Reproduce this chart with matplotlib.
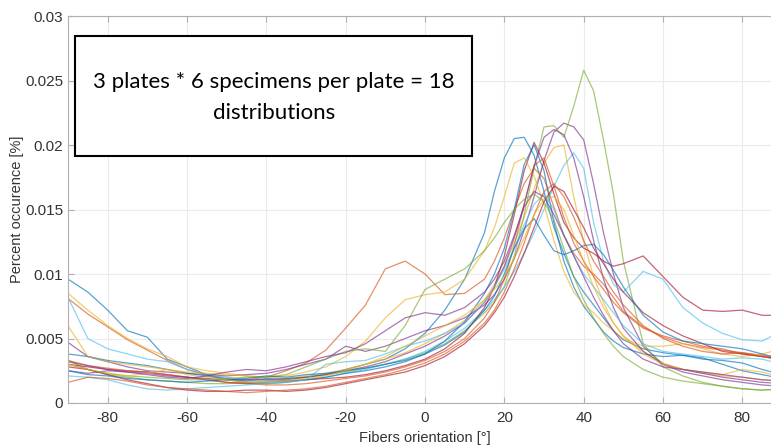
import numpy as np
import matplotlib.pyplot as plt
from matplotlib.patches import Rectangle

plt.rcParams['font.family'] = ['Liberation Sans', 'DejaVu Sans']
plt.rcParams['axes.unicode_minus'] = False

# orientation angles [deg]
angles = [-90, -85, -80, -75, -70, -65, -60, -55, -50, -45, -40, -35, -30, -25, -20, -15, -10, -5, 0, 5, 10, 15,
          17.5, 20, 22.5, 25, 27.5, 30, 32.5, 35, 37.5, 40, 42.5, 45, 47.5,
          50, 55, 60, 65, 70, 75, 80, 85, 90]

# percent occurence (units of 1e-3)
c01 = [9.6, 8.6, 7.2, 5.6, 5.1, 3.4, 2.8, 2.2, 1.9, 1.7, 1.9, 1.8, 2.0, 2.2, 2.6, 3.0, 3.4, 4.2, 5.4, 7.2, 9.6, 13.2,
       16.4, 19.0, 20.5, 20.6, 19.2, 16.4, 13.6, 11.6, 9.8, 8.6, 7.6, 6.6, 5.6,
       4.9, 4.2, 3.9, 3.7, 3.4, 3.3, 3.1, 2.6, 2.2]
c02 = [8.1, 6.9, 5.9, 4.9, 4.1, 3.3, 2.6, 2.2, 1.8, 1.8, 2.0, 2.5, 3.1, 4.1, 5.8, 7.6, 10.4, 11.0, 10.0, 8.4, 8.5, 9.6,
       11.0, 12.8, 15.0, 17.0, 18.2, 17.4, 15.2, 13.0, 11.6, 10.6, 10.0, 9.2, 8.2,
       7.1, 5.9, 5.1, 4.6, 4.3, 4.1, 3.9, 3.7, 3.5]
c03 = [8.5, 7.2, 6.0, 5.0, 4.2, 3.6, 2.8, 2.5, 2.3, 2.1, 2.0, 1.9, 2.1, 2.3, 2.6, 3.0, 3.4, 3.9, 4.6, 5.4, 6.4, 8.0,
       9.2, 10.6, 12.4, 14.4, 16.6, 18.6, 19.8, 20.0, 16.0, 12.5, 9.8, 7.8, 6.2,
       5.2, 4.0, 3.1, 2.6, 2.3, 2.1, 2.0, 1.8, 1.7]
c04 = [4.7, 3.6, 3.2, 2.8, 2.5, 2.4, 2.3, 2.2, 2.1, 2.2, 2.3, 2.6, 3.0, 3.4, 4.4, 4.0, 4.4, 5.0, 5.6, 6.0, 6.6, 7.6,
       8.4, 9.6, 11.2, 13.4, 16.0, 18.8, 21.0, 21.7, 21.4, 20.4, 17.0, 13.2, 10.0,
       7.4, 4.4, 3.0, 2.4, 2.1, 1.8, 1.6, 1.4, 1.3]
c05 = [3.3, 2.6, 2.2, 2.0, 1.8, 1.7, 1.6, 1.5, 1.5, 1.6, 1.7, 1.8, 2.0, 2.2, 2.4, 2.7, 3.0, 3.4, 3.9, 4.6, 5.6, 7.0,
       7.8, 9.0, 11.4, 14.6, 18.2, 21.4, 21.5, 20.6, 23.0, 25.8, 24.2, 20.4, 16.2,
       11.0, 4.6, 2.8, 2.1, 1.6, 1.3, 1.1, 1.0, 1.1]
c06 = [8.2, 5.0, 4.2, 3.8, 3.4, 3.2, 2.6, 2.2, 2.0, 1.8, 1.8, 1.7, 1.8, 2.0, 2.3, 2.6, 3.0, 3.4, 4.0, 4.8, 5.8, 7.2,
       8.0, 9.0, 10.2, 11.6, 13.2, 15.0, 16.8, 18.4, 19.4, 18.2, 14.0, 11.0, 9.2,
       8.6, 10.2, 9.6, 7.4, 6.2, 5.4, 4.9, 4.8, 5.6]
c07 = [3.0, 2.8, 2.6, 2.5, 2.4, 2.2, 2.0, 1.8, 1.6, 1.5, 1.6, 1.7, 1.8, 1.9, 2.0, 2.2, 2.5, 2.9, 3.4, 4.2, 5.4, 7.4,
       9.0, 11.4, 14.6, 18.0, 20.2, 18.6, 16.2, 14.0, 12.8, 12.0, 11.6, 11.0, 10.6,
       10.8, 11.4, 9.8, 8.2, 7.2, 7.1, 7.2, 6.8, 6.8]
c08 = [3.8, 3.6, 3.3, 3.1, 2.9, 2.6, 2.3, 2.1, 1.8, 1.6, 1.5, 1.6, 1.8, 2.0, 2.3, 2.5, 2.8, 3.2, 3.8, 4.8, 6.3, 8.5,
       10.0, 12.0, 15.0, 18.5, 20.0, 18.0, 14.0, 11.0, 9.0, 7.5, 6.5, 5.5, 4.8,
       4.3, 3.8, 3.6, 3.7, 3.5, 3.0, 2.5, 2.2, 1.9]
c09 = [3.3, 2.9, 2.7, 2.5, 2.4, 2.2, 2.0, 1.8, 1.6, 1.5, 1.4, 1.4, 1.5, 1.7, 1.9, 2.1, 2.4, 2.8, 3.3, 4.0, 5.0, 6.6,
       7.8, 9.6, 12.2, 15.4, 18.4, 19.0, 16.8, 14.4, 12.4, 11.0, 9.8, 8.8, 7.8,
       7.0, 5.8, 5.2, 4.8, 4.4, 4.2, 3.8, 3.6, 3.4]
c10 = [6.0, 3.6, 3.2, 3.0, 2.8, 2.6, 2.4, 2.3, 2.2, 2.1, 2.0, 2.1, 2.4, 2.8, 3.6, 4.8, 6.6, 8.0, 8.4, 8.6, 9.6, 11.8,
       13.6, 16.0, 18.6, 19.0, 17.6, 15.4, 12.6, 10.2, 8.6, 7.6, 7.0, 6.2, 5.6,
       5.0, 4.4, 4.4, 4.6, 4.2, 3.8, 3.6, 3.8, 4.2]
c11 = [2.5, 2.3, 2.5, 2.4, 2.3, 2.1, 2.0, 1.9, 1.8, 1.8, 1.8, 1.9, 2.0, 2.2, 2.5, 2.8, 3.2, 3.8, 4.4, 5.2, 6.2, 7.8,
       9.0, 10.6, 12.8, 15.4, 18.4, 20.6, 21.2, 20.8, 19.0, 16.0, 12.6, 9.6, 7.4,
       5.8, 4.0, 3.0, 2.6, 2.3, 2.0, 1.8, 1.6, 1.5]
c12 = [3.0, 2.6, 2.3, 2.1, 2.0, 1.9, 1.8, 1.8, 1.9, 2.0, 2.0, 2.2, 2.8, 3.4, 4.0, 4.2, 4.0, 6.0, 8.8, 9.6, 10.4, 11.8,
       12.8, 14.0, 15.0, 15.8, 16.2, 15.6, 14.2, 12.0, 9.8, 8.0, 6.6, 5.4, 4.4,
       3.6, 2.6, 2.0, 1.7, 1.5, 1.3, 1.1, 1.0, 1.1]
c13 = [2.1, 2.0, 1.8, 1.4, 1.1, 1.0, 1.1, 1.2, 1.3, 1.4, 1.5, 1.6, 1.8, 3.0, 3.2, 3.3, 3.8, 4.4, 4.8, 5.4, 6.2, 7.8,
       9.0, 10.4, 12.0, 13.8, 15.4, 16.2, 15.0, 13.0, 11.4, 10.0, 9.0, 8.0, 7.0,
       6.0, 4.6, 4.0, 3.8, 3.6, 3.4, 3.5, 3.4, 3.0]
c14 = [2.8, 2.6, 2.2, 1.8, 1.5, 1.2, 1.0, 0.9, 0.9, 1.0, 1.0, 0.9, 1.0, 1.2, 1.5, 1.8, 2.1, 2.4, 2.9, 3.6, 4.6, 6.0,
       7.0, 8.2, 9.8, 11.6, 13.6, 15.6, 16.8, 16.4, 15.0, 13.6, 12.0, 10.8, 9.6,
       8.6, 7.0, 6.0, 5.2, 4.6, 4.0, 3.8, 3.6, 3.4]
c15 = [2.5, 2.2, 2.1, 1.9, 1.8, 1.7, 1.6, 1.7, 1.8, 1.9, 2.1, 2.0, 2.2, 2.3, 2.5, 2.7, 3.0, 3.3, 3.8, 4.5, 5.5, 7.2,
       8.3, 10.0, 12.0, 13.5, 14.3, 13.0, 11.8, 11.5, 11.8, 12.2, 12.3, 11.5, 10.3,
       9.0, 6.8, 5.5, 4.8, 4.6, 4.4, 4.2, 3.8, 3.4]
c16 = [1.6, 2.0, 1.9, 1.7, 1.4, 1.2, 1.1, 1.0, 0.9, 0.8, 0.9, 1.0, 1.1, 1.3, 1.6, 1.9, 2.2, 2.6, 3.1, 3.8, 4.8, 6.2,
       7.2, 8.6, 10.4, 12.4, 14.6, 16.4, 17.0, 16.0, 14.4, 12.6, 11.0, 9.8, 8.6,
       7.6, 6.0, 5.0, 4.4, 4.0, 3.8, 3.9, 3.6, 3.3]
c17 = [3.0, 2.6, 2.3, 2.1, 2.3, 2.6, 2.2, 2.0, 1.8, 1.6, 1.6, 1.7, 1.9, 2.1, 2.5, 3.0, 3.6, 4.4, 5.2, 6.0, 6.8, 8.0,
       8.8, 9.8, 11.2, 12.8, 14.6, 15.8, 16.0, 15.0, 13.0, 11.0, 9.0, 7.4, 6.2,
       5.2, 3.8, 3.0, 2.6, 2.4, 2.2, 2.6, 2.4, 2.0]
c18 = [3.2, 2.9, 2.6, 2.4, 2.2, 2.0, 1.9, 2.1, 2.4, 2.6, 2.5, 2.8, 3.2, 3.6, 3.9, 4.6, 5.6, 6.6, 7.0, 6.8, 7.4, 8.6,
       9.6, 11.0, 13.0, 15.2, 16.4, 16.0, 14.6, 13.0, 11.4, 9.8, 8.2, 6.8, 5.6,
       4.6, 3.4, 2.8, 2.6, 2.4, 2.2, 2.0, 1.8, 1.7]
curves = [c01, c02, c03, c04, c05, c06, c07, c08, c09, c10, c11, c12, c13, c14, c15, c16, c17, c18]

xticks = [-80, -60, -40, -20, 0, 20, 40, 60, 80]
yticks = [0, 0.005, 0.01, 0.015, 0.02, 0.025, 0.03]
yticklabels = ['0', '0.005', '0.01', '0.015', '0.02', '0.025', '0.03']

# matlab default line colors
colors = ['#0072BD', '#D95319', '#EDB120', '#7E2F8E', '#77AC30', '#4DBEEE', '#A2142F']

fig = plt.figure(figsize=(7.71, 4.45), dpi=100)
ax = fig.add_axes([68 / 771, 1 - 403 / 445, 714 / 771, 387 / 445])

x = np.array(angles)
for i, c in enumerate(curves):
    ax.plot(x, np.array(c) * 1e-3, color=colors[i % 7], linewidth=0.9, alpha=0.65)

ax.set_xlim(-90, 90)
ax.set_ylim(0, 0.03)
ax.set_xticks(xticks)
ax.set_yticks(yticks)
ax.set_yticklabels(yticklabels)
ax.grid(True, color='#ebebeb', linewidth=0.8)
ax.set_axisbelow(True)
for s in ax.spines.values():
    s.set_color('#b0b0b0')
ax.tick_params(direction='in', top=True, right=True, length=4, color='#b0b0b0',
               labelsize=11, labelcolor='#333333')
ax.tick_params(axis='x', pad=6)

ax.set_xlabel('Fibers orientation [°]', fontsize=10.5, color='#333333', labelpad=4)
ax.set_ylabel('Percent occurence [%]', fontsize=10.5, color='#333333', labelpad=1)

# annotation box
box = Rectangle((0.0098, 0.638), 0.5562, 0.310, transform=ax.transAxes,
                facecolor='white', edgecolor='black', linewidth=1.5, zorder=5)
ax.add_patch(box)
ax.text(0.288, 0.790, '3 plates * 6 specimens per plate = 18\ndistributions', transform=ax.transAxes,
        ha='center', va='center', fontsize=16, family='Lato', linespacing=1.7, zorder=6)

plt.savefig('out.png', dpi=100)
